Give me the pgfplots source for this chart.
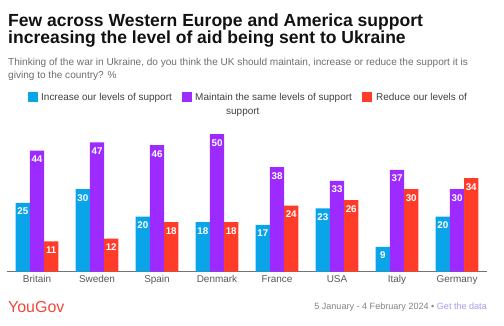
\documentclass[border=0pt]{standalone}
\usepackage{pgfplots}
\pgfplotsset{compat=1.18}
\usepackage{fontspec}
\setmainfont{Liberation Sans}
\definecolor{cblue}{RGB}{10,165,232}
\definecolor{cpurple}{RGB}{157,42,255}
\definecolor{cred}{RGB}{255,60,42}
\definecolor{subgray}{RGB}{110,110,110}
\definecolor{ygred}{RGB}{240,72,60}
\definecolor{linkpurple}{RGB}{165,155,240}
\begin{document}
\begin{tikzpicture}[x=1bp,y=1bp]
\path[use as bounding box, fill=white] (0,0) rectangle (504,325);
% title
\node[anchor=base west, inner sep=0, font=\fontsize{17.6}{19}\selectfont\bfseries, text=black!93] at (8,299) {Few across Western Europe and America support};
\node[anchor=base west, inner sep=0, font=\fontsize{17.6}{19}\selectfont\bfseries, text=black!93] at (8,281.3) {increasing the level of aid being sent to Ukraine};
% subtitle
\node[anchor=base west, inner sep=0, font=\fontsize{10.1}{11}\selectfont, text=subgray] at (8,260) {Thinking of the war in Ukraine, do you think the UK should maintain, increase or reduce the support it is};
\node[anchor=base west, inner sep=0, font=\fontsize{10.1}{11}\selectfont, text=subgray] at (8,246.5) {giving to the country? \%};
% legend
\fill[cblue] (28,223) rectangle (38,233);
\node[anchor=base west, inner sep=0, font=\fontsize{10}{11}\selectfont, text=black!75] at (41,225) {Increase our levels of support};
\fill[cpurple] (182,223) rectangle (192,233);
\node[anchor=base west, inner sep=0, font=\fontsize{10}{11}\selectfont, text=black!75] at (195,225) {Maintain the same levels of support};
\fill[cred] (362,223) rectangle (372,233);
\node[anchor=base west, inner sep=0, font=\fontsize{10}{11}\selectfont, text=black!75] at (376,225) {Reduce our levels of};
\node[anchor=base west, inner sep=0, font=\fontsize{10}{11}\selectfont, text=black!75] at (226,211) {support};
% footer
\node[anchor=base west, inner sep=0, font=\fontsize{16}{17}\selectfont, text=ygred] at (8,13) {YouGov};
\node[anchor=base east, inner sep=0, font=\fontsize{9.1}{10}\selectfont, text=subgray!85] at (487,16) {5 January - 4 February 2024 \textbullet\ \textcolor{linkpurple}{Get the data}};
\begin{axis}[
  at={(7bp,53.3bp)}, anchor=south west,
  scale only axis, width=480bp, height=151.25bp,
  ymin=0, ymax=55, xmin=-0.5, xmax=7.5,
  axis x line*=bottom, axis y line=none,
  x axis line style={draw=black!55, line width=0.9pt},
  xtick={0,1,2,3,4,5,6,7},
  xticklabels={Britain,Sweden,Spain,Denmark,France,USA,Italy,Germany},
  major tick length=0pt,
  xticklabel style={anchor=base, yshift=-11bp, font=\fontsize{10}{11}\selectfont, text=black!65},
  ytick=\empty,
  ybar=0pt, bar width=14.2bp,
  /pgf/number format/assume math mode=true,
  nodes near coords,
  every node near coord/.append style={anchor=north, text=white, yshift=-1.5bp, font=\fontsize{9.8}{11}\selectfont\bfseries},
  clip=false,
]
\addplot[fill=cblue, draw=none] coordinates {(0,25) (1,30) (2,20) (3,18) (4,17) (5,23) (6,9) (7,20)};
\addplot[fill=cpurple, draw=none] coordinates {(0,44) (1,47) (2,46) (3,50) (4,38) (5,33) (6,37) (7,30)};
\addplot[fill=cred, draw=none] coordinates {(0,11) (1,12) (2,18) (3,18) (4,24) (5,26) (6,30) (7,34)};
\end{axis}
\end{tikzpicture}
\end{document}
